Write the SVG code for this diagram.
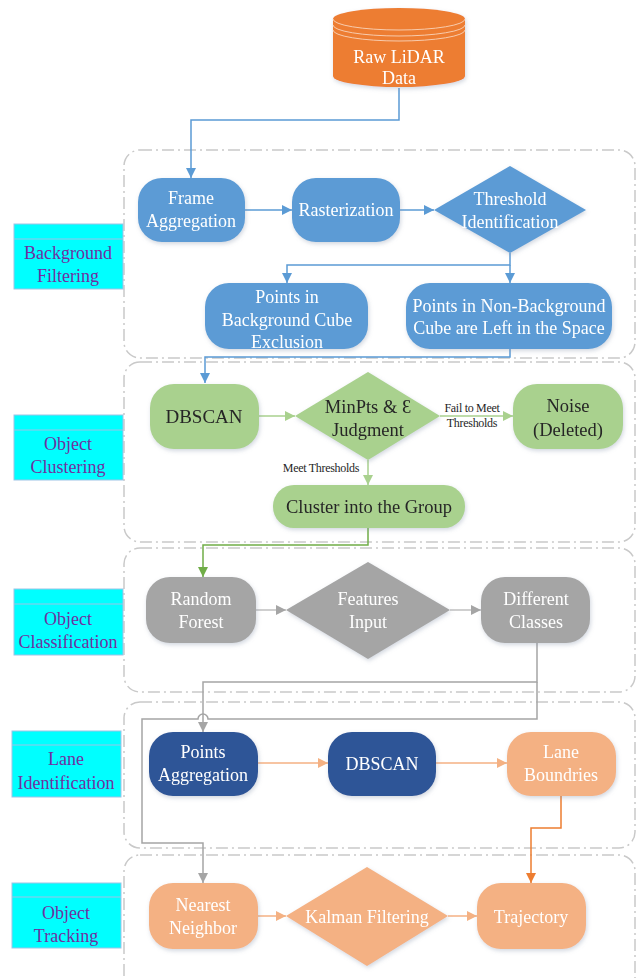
<svg xmlns="http://www.w3.org/2000/svg" width="636" height="978" viewBox="0 0 636 978">
  <defs>
    <style>
      text { text-anchor: middle; }
      .lbl { fill: #fff; font-size: 18px; }
      .dk { fill: #262626; font-size: 18.5px; }
      .stage { fill: #7030A0; font-size: 18px; }
      .small { fill: #262626; font-size: 12px; letter-spacing: -0.3px; }
      .group { fill: none; stroke: #C9C9C9; stroke-width: 1.5; stroke-dasharray: 12 4 2 4; }
      .cap { fill: #00FFFF; stroke: #9DC3E6; stroke-width: 1; }
      .cap-line { stroke: #9DC3E6; stroke-width: 1; }
      .blue { fill: #5B9BD5; }
      .green { fill: #A9D18E; }
      .gray { fill: #A5A5A5; }
      .navy { fill: #2F5597; }
      .peach { fill: #F4B183; }
      .node { filter: url(#shadow); }
      .c { fill: none; stroke-width: 1.5; }
    </style>
    <filter id="shadow" x="-20%" y="-20%" width="140%" height="150%">
      <feDropShadow dx="1" dy="2" stdDeviation="2" flood-color="#7f8fa6" flood-opacity="0.35"/>
    </filter>
    <marker id="aBlue" viewBox="0 0 10 10" refX="10" refY="5" markerWidth="10" markerHeight="10" markerUnits="userSpaceOnUse" orient="auto"><path d="M0,0 L10,5 L0,10 z" fill="#5B9BD5"/></marker>
    <marker id="aGreenL" viewBox="0 0 10 10" refX="10" refY="5" markerWidth="10" markerHeight="10" markerUnits="userSpaceOnUse" orient="auto"><path d="M0,0 L10,5 L0,10 z" fill="#A9D18E"/></marker>
    <marker id="aGreen" viewBox="0 0 10 10" refX="10" refY="5" markerWidth="10" markerHeight="10" markerUnits="userSpaceOnUse" orient="auto"><path d="M0,0 L10,5 L0,10 z" fill="#70AD47"/></marker>
    <marker id="aGray" viewBox="0 0 10 10" refX="10" refY="5" markerWidth="10" markerHeight="10" markerUnits="userSpaceOnUse" orient="auto"><path d="M0,0 L10,5 L0,10 z" fill="#A5A5A5"/></marker>
    <marker id="aPeach" viewBox="0 0 10 10" refX="10" refY="5" markerWidth="10" markerHeight="10" markerUnits="userSpaceOnUse" orient="auto"><path d="M0,0 L10,5 L0,10 z" fill="#F4B183"/></marker>
    <marker id="aOrange" viewBox="0 0 10 10" refX="10" refY="5" markerWidth="10" markerHeight="10" markerUnits="userSpaceOnUse" orient="auto"><path d="M0,0 L10,5 L0,10 z" fill="#ED7D31"/></marker>
  </defs>

  <rect width="636" height="978" fill="#fff"/>

  <g font-family="'Liberation Serif', 'Times New Roman', 'DejaVu Serif', serif">
  <!-- stage frames -->
  <g id="frames">
    <rect class="group" x="124" y="150" width="511" height="208" rx="16"/>
    <rect class="group" x="124" y="362" width="511" height="180" rx="16"/>
    <rect class="group" x="124" y="548" width="511" height="144" rx="16"/>
    <rect class="group" x="124" y="702" width="511" height="146" rx="16"/>
    <rect class="group" x="124" y="855" width="511" height="140" rx="16"/>
  </g>

  <!-- stage captions -->
  <g id="stage-background">
    <rect class="cap" x="14" y="224" width="109" height="65"/>
    <line class="cap-line" x1="14" y1="239" x2="123" y2="239"/>
    <text class="stage" x="68" y="259">Background</text>
    <text class="stage" x="68" y="282">Filtering</text>
  </g>
  <g id="stage-clustering">
    <rect class="cap" x="14" y="415" width="109" height="65"/>
    <line class="cap-line" x1="14" y1="430" x2="123" y2="430"/>
    <text class="stage" x="68" y="450">Object</text>
    <text class="stage" x="68" y="473">Clustering</text>
  </g>
  <g id="stage-classification">
    <rect class="cap" x="14" y="589" width="109" height="66"/>
    <line class="cap-line" x1="14" y1="604" x2="123" y2="604"/>
    <text class="stage" x="68" y="625">Object</text>
    <text class="stage" x="68" y="648">Classification</text>
  </g>
  <g id="stage-lane">
    <rect class="cap" x="12" y="731" width="109" height="66"/>
    <line class="cap-line" x1="12" y1="745" x2="121" y2="745"/>
    <text class="stage" x="66" y="765">Lane</text>
    <text class="stage" x="66" y="789">Identification</text>
  </g>
  <g id="stage-tracking">
    <rect class="cap" x="12" y="883" width="109" height="65"/>
    <line class="cap-line" x1="12" y1="897" x2="121" y2="897"/>
    <text class="stage" x="66" y="919">Object</text>
    <text class="stage" x="66" y="942">Tracking</text>
  </g>

  <!-- connectors -->
  <g id="connectors">
    <path class="c" stroke="#5B9BD5" d="M399 88 V120 H191 V178" marker-end="url(#aBlue)"/>
    <path class="c" stroke="#5B9BD5" d="M245 210 H292" marker-end="url(#aBlue)"/>
    <path class="c" stroke="#5B9BD5" d="M400 210 H434" marker-end="url(#aBlue)"/>
    <path class="c" stroke="#5B9BD5" d="M510 253 V265 H287 V283" marker-end="url(#aBlue)"/>
    <path class="c" stroke="#5B9BD5" d="M510 265 V283" marker-end="url(#aBlue)"/>
    <path class="c" stroke="#5B9BD5" d="M510 349 V357 H205 V383" marker-end="url(#aBlue)"/>

    <path class="c" stroke="#A9D18E" d="M259 416 H295" marker-end="url(#aGreenL)"/>
    <path class="c" stroke="#A9D18E" d="M440 416 H513" marker-end="url(#aGreenL)"/>
    <path class="c" stroke="#A9D18E" d="M368 460 V485" marker-end="url(#aGreenL)"/>
    <path class="c" stroke="#70AD47" d="M368 528 V545 H203 V577" marker-end="url(#aGreen)"/>

    <path class="c" stroke="#BFBFBF" d="M256 610 H286" marker-end="url(#aGray)"/>
    <path class="c" stroke="#BFBFBF" d="M450 610 H481" marker-end="url(#aGray)"/>
    <path class="c" stroke="#A5A5A5" d="M537 643 V682 H203 V732" marker-end="url(#aGray)"/>
    <path class="c" stroke="#A5A5A5" d="M537 682 V719 H208 A5 5 0 0 0 198 719 H142 V843 H203 V883" marker-end="url(#aGray)"/>

    <path class="c" stroke="#F4B183" d="M258 763 H328" marker-end="url(#aPeach)"/>
    <path class="c" stroke="#F4B183" d="M436 763 H507" marker-end="url(#aPeach)"/>
    <path class="c" stroke="#ED7D31" d="M561 796 V828 H531 V883" marker-end="url(#aOrange)"/>

    <path class="c" stroke="#F4B183" d="M258 916 H286" marker-end="url(#aPeach)"/>
    <path class="c" stroke="#F4B183" d="M448 916 H477" marker-end="url(#aPeach)"/>

    <text class="small" x="472" y="412">Fail to Meet</text>
    <text class="small" x="472" y="427">Thresholds</text>
    <text class="small" x="321" y="472">Meet Thresholds</text>
  </g>

  <!-- source -->
  <g id="raw-lidar" class="node">
    <path d="M333 19 V76 A66 11 0 0 0 465 76 V19 A66 11 0 0 0 333 19 Z" fill="#ED7D31"/>
    <path d="M333 19 A66 11 0 0 0 465 19" fill="none" stroke="#F8CBAD" stroke-width="1"/>
    <path d="M333 25 A66 11 0 0 0 465 25" fill="none" stroke="#F8CBAD" stroke-width="1"/>
    <path d="M333 30 A66 11 0 0 0 465 30" fill="none" stroke="#F8CBAD" stroke-width="1"/>
    <text class="lbl" x="399" y="63">Raw LiDAR</text>
    <text class="lbl" x="399" y="84">Data</text>
  </g>

  <!-- background filtering -->
  <g id="frame-aggregation" class="node">
    <rect class="blue" x="138" y="178" width="107" height="64" rx="24"/>
    <text class="lbl" x="191" y="204">Frame</text>
    <text class="lbl" x="191" y="227">Aggregation</text>
  </g>
  <g id="rasterization" class="node">
    <rect class="blue" x="292" y="178" width="108" height="64" rx="24"/>
    <text class="lbl" x="346" y="216">Rasterization</text>
  </g>
  <g id="threshold-identification" class="node">
    <polygon class="blue" points="510,166 586,210 510,253 434,210"/>
    <text class="lbl" x="510" y="205">Threshold</text>
    <text class="lbl" x="510" y="228">Identification</text>
  </g>
  <g id="background-cube" class="node">
    <rect class="blue" x="205" y="283" width="163" height="66" rx="24"/>
    <text class="lbl" x="287" y="303">Points in</text>
    <text class="lbl" x="287" y="326">Background Cube</text>
    <text class="lbl" x="287" y="348">Exclusion</text>
  </g>
  <g id="non-background-cube" class="node">
    <rect class="blue" x="406" y="283" width="206" height="66" rx="24"/>
    <text class="lbl" x="509" y="312">Points in Non-Background</text>
    <text class="lbl" x="509" y="334">Cube are Left in the Space</text>
  </g>

  <!-- object clustering -->
  <g id="dbscan-cluster" class="node">
    <rect class="green" x="150" y="384" width="109" height="65" rx="24"/>
    <text class="dk" x="204" y="423" style="font-size:19px">DBSCAN</text>
  </g>
  <g id="minpts-judgment" class="node">
    <polygon class="green" points="368,372 440,416 368,460 295,416"/>
    <text class="dk" x="368" y="413">MinPts &amp; Ɛ</text>
    <text class="dk" x="368" y="436">Judgment</text>
  </g>
  <g id="noise" class="node">
    <rect class="green" x="513" y="384" width="110" height="65" rx="24"/>
    <text class="dk" x="568" y="412">Noise</text>
    <text class="dk" x="568" y="436">(Deleted)</text>
  </g>
  <g id="cluster-group" class="node">
    <rect class="green" x="273" y="485" width="192" height="43" rx="21"/>
    <text class="dk" x="369" y="513">Cluster into the Group</text>
  </g>

  <!-- object classification -->
  <g id="random-forest" class="node">
    <rect class="gray" x="146" y="577" width="110" height="66" rx="24"/>
    <text class="lbl" x="201" y="605">Random</text>
    <text class="lbl" x="201" y="628">Forest</text>
  </g>
  <g id="features-input" class="node">
    <polygon class="gray" points="368,562 450,610 368,659 286,610"/>
    <text class="lbl" x="368" y="605">Features</text>
    <text class="lbl" x="368" y="628">Input</text>
  </g>
  <g id="different-classes" class="node">
    <rect class="gray" x="481" y="577" width="109" height="66" rx="24"/>
    <text class="lbl" x="536" y="605">Different</text>
    <text class="lbl" x="536" y="628">Classes</text>
  </g>

  <!-- lane identification -->
  <g id="points-aggregation" class="node">
    <rect class="navy" x="149" y="732" width="109" height="64" rx="24"/>
    <text class="lbl" x="203" y="758">Points</text>
    <text class="lbl" x="203" y="781">Aggregation</text>
  </g>
  <g id="dbscan-lane" class="node">
    <rect class="navy" x="328" y="732" width="108" height="64" rx="24"/>
    <text class="lbl" x="382" y="770">DBSCAN</text>
  </g>
  <g id="lane-boundries" class="node">
    <rect class="peach" x="507" y="732" width="109" height="64" rx="24"/>
    <text class="lbl" x="561" y="758">Lane</text>
    <text class="lbl" x="561" y="781">Boundries</text>
  </g>

  <!-- object tracking -->
  <g id="nearest-neighbor" class="node">
    <rect class="peach" x="149" y="883" width="109" height="66" rx="24"/>
    <text class="lbl" x="203" y="911">Nearest</text>
    <text class="lbl" x="203" y="934">Neighbor</text>
  </g>
  <g id="kalman-filtering" class="node">
    <polygon class="peach" points="367,867 448,916 367,966 286,916"/>
    <text class="lbl" x="367" y="923">Kalman Filtering</text>
  </g>
  <g id="trajectory" class="node">
    <rect class="peach" x="477" y="883" width="109" height="66" rx="24"/>
    <text class="lbl" x="531" y="923">Trajectory</text>
  </g>
  </g>
</svg>
